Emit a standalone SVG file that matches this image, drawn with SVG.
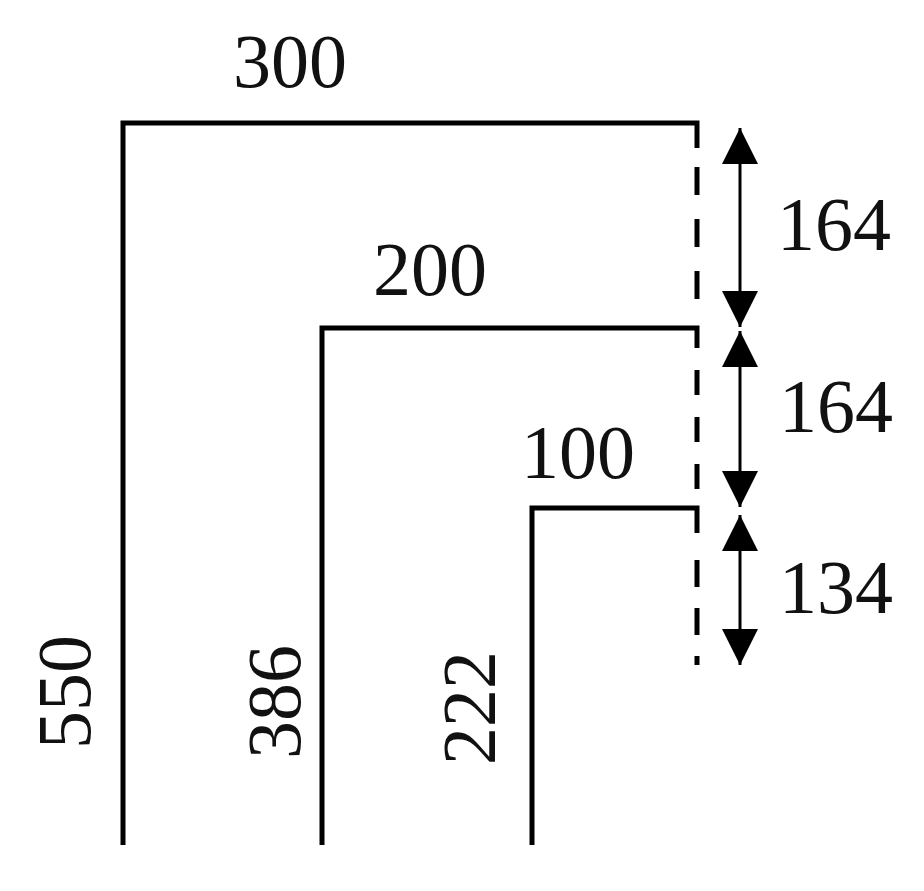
<svg xmlns="http://www.w3.org/2000/svg" width="924" height="891" viewBox="0 0 924 891">
<defs>
<style>
.wall{fill:none;stroke:#000;stroke-width:5;stroke-linejoin:miter;stroke-linecap:butt}
.dash{fill:none;stroke:#000;stroke-width:5}
.dim{fill:none;stroke:#000;stroke-width:3}
.lbl{font-family:"Liberation Serif","Times New Roman",serif;font-size:76px;fill:#111;text-anchor:middle}
</style>
<marker id="ah" viewBox="0 0 36 36" refX="36" refY="18" markerWidth="36" markerHeight="36" markerUnits="userSpaceOnUse" orient="auto-start-reverse">
<path d="M0,0 L36,18 L0,36 Z" fill="#000"/>
</marker>
</defs>
<rect width="924" height="891" fill="#fff"/>
<g id="outer">
<path class="wall" d="M123,845 V123 H697 V148"/>
<text class="lbl" x="290" y="87">300</text>
<text class="lbl" transform="translate(90,692) rotate(-90)">550</text>
</g>
<g id="middle">
<path class="wall" d="M322,845 V328 H697 V348"/>
<text class="lbl" x="430" y="295">200</text>
<text class="lbl" transform="translate(300,702) rotate(-90)">386</text>
</g>
<g id="inner">
<path class="wall" d="M532,845 V508 H697 V533"/>
<text class="lbl" x="578" y="478">100</text>
<text class="lbl" transform="translate(495,708) rotate(-90)">222</text>
</g>
<g id="connectors">
<line class="dash" x1="697" y1="167" x2="697" y2="300" stroke-dasharray="28 24"/>
<line class="dash" x1="697" y1="370" x2="697" y2="490" stroke-dasharray="25 22"/>
<line class="dash" x1="697" y1="560" x2="697" y2="665" stroke-dasharray="27 21"/>
<line class="dim" x1="740" y1="128" x2="740" y2="327" marker-start="url(#ah)" marker-end="url(#ah)"/>
<line class="dim" x1="740" y1="331" x2="740" y2="507" marker-start="url(#ah)" marker-end="url(#ah)"/>
<line class="dim" x1="740" y1="515" x2="740" y2="665" marker-start="url(#ah)" marker-end="url(#ah)"/>
</g>
<g id="dimensions">
<text class="lbl" x="834" y="250">164</text>
<text class="lbl" x="836" y="432">164</text>
<text class="lbl" x="836" y="613">134</text>
</g>
</svg>
